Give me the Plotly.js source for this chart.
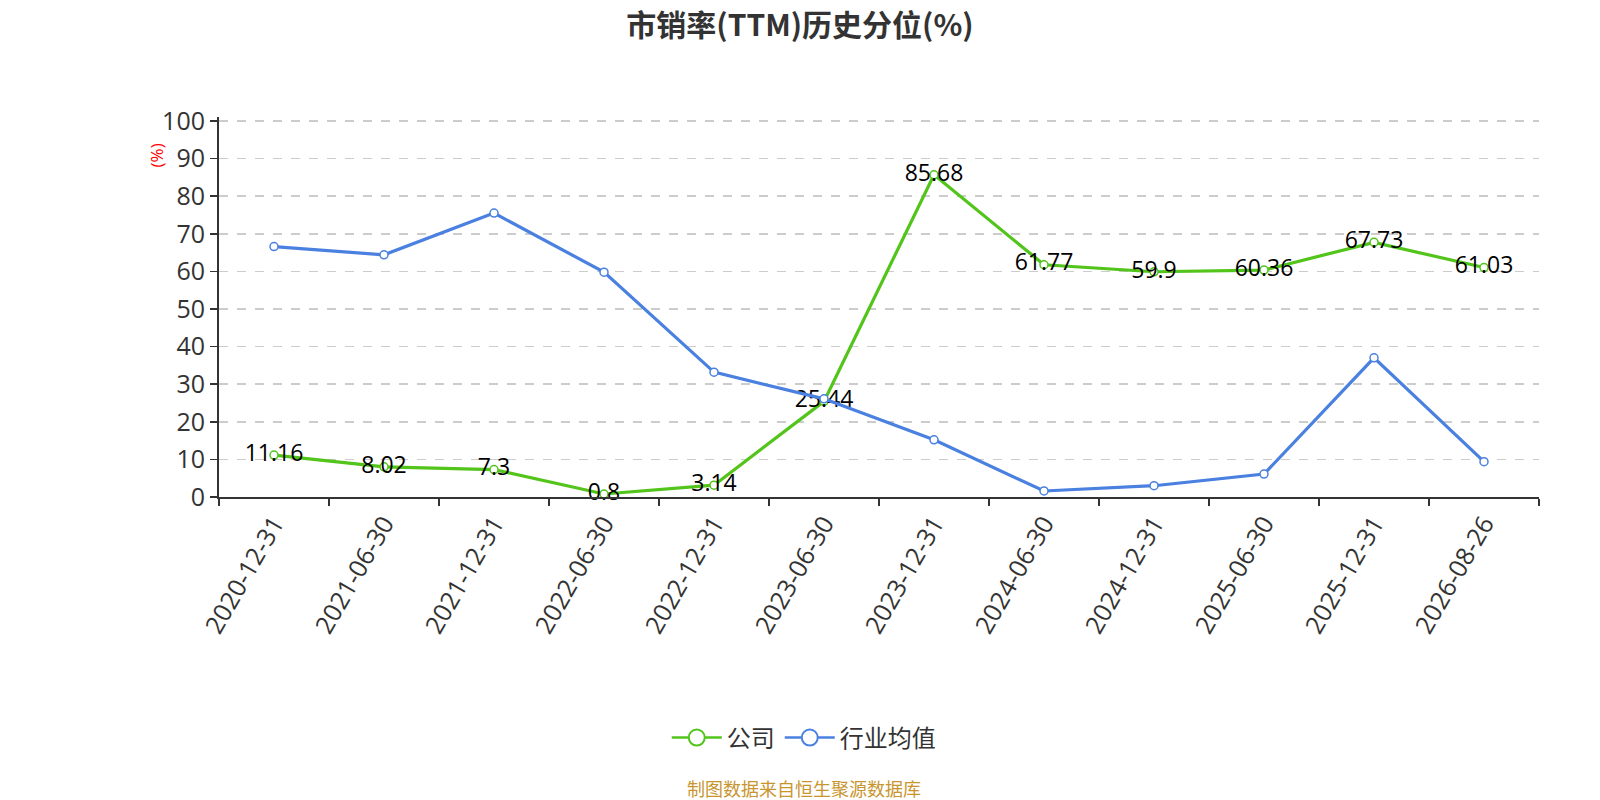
<!DOCTYPE html>
<html>
<head>
<meta charset="utf-8">
<script src="https://cdn.plot.ly/plotly-3.0.1.min.js"></script>
<style>html,body{margin:0;padding:0;background:#fff;}#chart{width:1600px;height:800px;}</style>
</head>
<body>
<div id="chart"></div>
<script>
const categories = ["2020-12-31","2021-06-30","2021-12-31","2022-06-30","2022-12-31","2023-06-30","2023-12-31","2024-06-30","2024-12-31","2025-06-30","2025-12-31","2026-08-26"];
const companyValues = [11.16, 8.02, 7.3, 0.8, 3.14, 25.44, 85.68, 61.77, 59.9, 60.36, 67.73, 61.03];
const industryValues = [66.6, 64.4, 75.5, 59.8, 33.2, 26.1, 15.2, 1.6, 3.0, 6.1, 37.0, 9.4];
const seriesNames = ["公司", "行业均值"];
const yTicks = [0,10,20,30,40,50,60,70,80,90,100];

const FONT = '"Open Sans", "Noto Sans CJK SC", sans-serif';
const CJK = '"Noto Sans CJK SC", "Open Sans", sans-serif';
const GREEN = '#52c41a';
const BLUE = '#4a80e0';

const traces = [
  {
    x: categories, y: companyValues, name: seriesNames[0], type: 'scatter', mode: 'lines+markers+text',
    line: {color: GREEN, width: 3.2},
    marker: {symbol: 'circle', size: 8, color: '#fff', line: {color: GREEN, width: 1.5}},
    text: companyValues.map(v => String(v)),
    textposition: 'middle center',
    textfont: {family: FONT, size: 23, color: '#000'},
    cliponaxis: false, showlegend: false
  },
  {
    x: categories, y: industryValues, name: seriesNames[1], type: 'scatter', mode: 'lines+markers',
    line: {color: BLUE, width: 3.2},
    marker: {symbol: 'circle', size: 8, color: '#fff', line: {color: BLUE, width: 1.5}},
    cliponaxis: false, showlegend: false
  },
  {
    x: [null], y: [null], name: seriesNames[0], type: 'scatter', mode: 'lines+markers',
    line: {color: GREEN, width: 2.5},
    marker: {symbol: 'circle', size: 20, color: '#fff', line: {color: GREEN, width: 2}}
  },
  {
    x: [null], y: [null], name: seriesNames[1], type: 'scatter', mode: 'lines+markers',
    line: {color: BLUE, width: 2.5},
    marker: {symbol: 'circle', size: 20, color: '#fff', line: {color: BLUE, width: 2}}
  }
];

const layout = {
  width: 1600, height: 800,
  paper_bgcolor: '#fff', plot_bgcolor: '#fff',
  margin: {l: 219, r: 61, t: 117, b: 303},
  font: {family: FONT, color: '#333'},
  title: {text: '<b>市销率(TTM)历史分位(%)</b>', x: 0.5, xanchor: 'center', y: 0.968, yanchor: 'middle', font: {family: CJK, size: 30, color: '#333'}},
  showlegend: true,
  legend: {orientation: 'h', x: 0.443, xanchor: 'center', y: -0.634, yanchor: 'middle', font: {family: CJK, size: 24, color: '#333'}, itemwidth: 50, itemsizing: 'trace'},
  xaxis: {
    type: 'category', range: [-0.5, 11.5], tickson: 'boundaries',
    showline: true, linecolor: '#333', linewidth: 2,
    ticks: 'outside', ticklen: 7, tickcolor: '#333', tickwidth: 1.5,
    showgrid: false, zeroline: false,
    tickangle: -60, tickfont: {family: FONT, size: 25, color: '#333'},
    fixedrange: true
  },
  yaxis: {
    range: [0, 101.06], tickvals: yTicks, ticktext: yTicks.map(String),
    showline: true, linecolor: '#333', linewidth: 2,
    ticks: 'outside', ticklen: 7, tickcolor: '#333', tickwidth: 1.5,
    showgrid: true, gridcolor: '#ccc', griddash: 'dash', gridwidth: 1.5,
    zeroline: false,
    tickfont: {family: FONT, size: 25, color: '#333'},
    fixedrange: true
  },
  annotations: [
    {text: '(%)', xref: 'paper', yref: 'paper', x: -0.0477, y: 0.899, xanchor: 'center', yanchor: 'middle', textangle: -90, showarrow: false, font: {family: FONT, size: 17, color: '#ff0000'}},
    {text: '制图数据来自恒生聚源数据库', xref: 'paper', yref: 'paper', x: 0.443, y: -0.766, xanchor: 'center', yanchor: 'middle', showarrow: false, font: {family: CJK, size: 18, color: '#c8952e'}}
  ]
};

Plotly.newPlot('chart', traces, layout, {displayModeBar: false, staticPlot: true});
</script>
</body>
</html>
